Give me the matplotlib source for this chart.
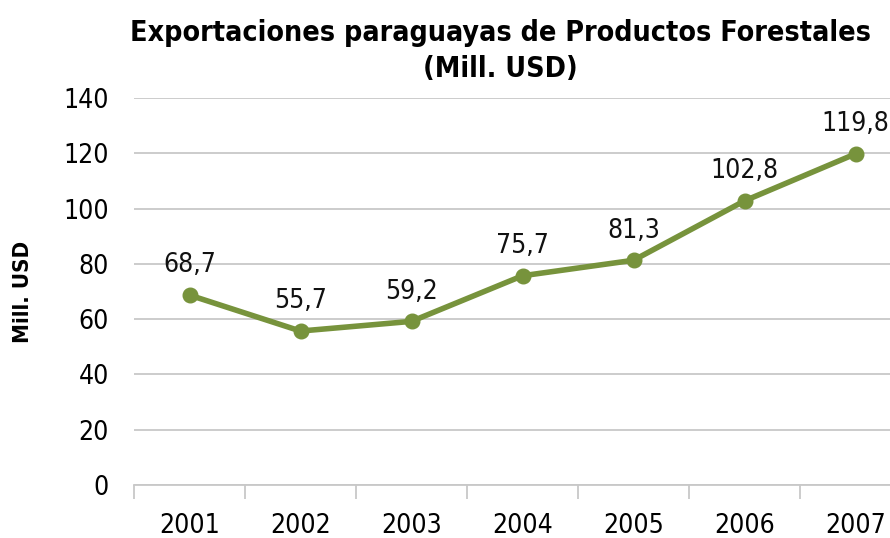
import matplotlib.pyplot as plt
import numpy as np

plt.rcParams.update({
    "font.family": ["DejaVu Sans"],
    "font.stretch": "condensed",
    "font.size": 19,
})

years = ["2001", "2002", "2003", "2004", "2005", "2006", "2007"]
values = [68.7, 55.7, 59.2, 75.7, 81.3, 102.8, 119.8]
value_labels = ["68,7", "55,7", "59,2", "75,7", "81,3", "102,8", "119,8"]

GREEN = "#77933c"
GRID = "#c8c8c8"

fig = plt.figure(figsize=(8.9, 5.38), dpi=100)
ax = fig.add_axes([0.1506, 0.0985, 0.873, 0.7193])

x = np.arange(len(years))
ax.plot(x, values, color=GREEN, lw=4, marker="o", ms=10.5, zorder=3,
        solid_capstyle="round")
for xi, v, lab in zip(x, values, value_labels):
    ax.annotate(lab, xy=(xi, v), xytext=(0, 12), textcoords="offset points",
                ha="center", va="bottom", fontsize=19, color="#111111")

ax.set_xlim(-0.5, len(years) - 0.5)
ax.set_ylim(0, 140)
ax.set_yticks(np.arange(0, 141, 20))
ax.set_xticks(x, years)
ax.set_xticks(np.arange(-0.5, len(years), 1), minor=True)
ax.grid(axis="y", color=GRID, lw=1.3)
ax.set_axisbelow(True)

for s in ["top", "right", "left"]:
    ax.spines[s].set_visible(False)
ax.spines["bottom"].set_color(GRID)
ax.spines["bottom"].set_linewidth(1.3)

ax.tick_params(axis="y", length=0, pad=18, labelsize=19)
ax.tick_params(axis="x", which="major", length=0, pad=20, labelsize=19)
ax.tick_params(axis="x", which="minor", length=10, color=GRID, width=1.3)

ax.set_ylabel("Mill. USD", fontsize=16, fontweight="bold", labelpad=22)

fig.text(0.562, 0.905, "Exportaciones paraguayas de Productos Forestales\n(Mill. USD)",
         ha="center", va="center", fontsize=20.5, fontweight="bold",
         linespacing=1.35)

fig.savefig("out.png", dpi=100, facecolor="white")
